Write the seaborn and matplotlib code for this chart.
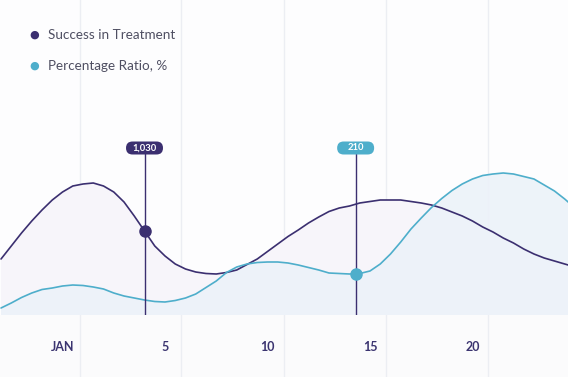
import matplotlib
matplotlib.use("Agg")
import matplotlib.pyplot as plt
import pandas as pd
import seaborn as sns
from matplotlib.patches import FancyBboxPatch

# data (x = day of January, half-day steps, y = chart units)
days = [d / 2 for d in range(-6, 51)]
success = [56, 69, 82, 94, 105, 115, 123, 129, 131, 132, 129, 123, 113, 99, 84,
           69, 59, 51, 46, 43, 41.5, 41, 42.5, 45, 50.5, 56, 63.5, 71, 78.5, 85,
           92, 98, 103.5, 107, 109, 112, 113.5, 115, 115, 115, 113.5, 112, 110, 107,
           103, 99, 94, 88, 83, 77, 72, 66, 61, 57, 54, 51, 48]
ratio = [7, 12, 17.5, 22, 25.5, 27, 29, 30, 29.5, 28, 26, 22, 19, 17, 15,
         13.5, 13, 14.5, 17, 21, 27.5, 34, 42.5, 48, 51, 52.5, 53, 53, 52, 50,
         47.5, 45, 42, 41.5, 41, 41.5, 44, 51, 61, 73, 86, 97, 107.5, 116.5,
         124.5, 131, 136, 139.5, 141, 142, 141, 138.5, 136, 130, 124, 116, 107]
tick_days = [0, 5, 10, 15, 20]
tick_labels = ["JAN", "5", "10", "15", "20"]
series_names = ["Success in Treatment", "Percentage Ratio, %"]
highlight_x = [4, 14.3]
highlight_y = [84, 41]
highlight_text = ["1,030", "210"]
tag_level = 167
grid_days = [0.85, 5.8, 10.8, 15.8, 20.75]

DARK = "#3b2f70"
LIGHT = "#4eaecb"
PX_PER_DAY = 20.5

sns.set_theme(style="white")
plt.rcParams["font.family"] = ["Lato", "DejaVu Sans"]

df = pd.DataFrame({"day": days * 2,
                   "value": success + ratio,
                   "series": [series_names[0]] * len(days) + [series_names[1]] * len(days)})

fig = plt.figure(figsize=(5.68, 3.77), dpi=100, facecolor="#fbfbfc")
ax = fig.add_axes([0, 62 / 377, 1, 315 / 377])
ax.set_facecolor("#fdfdfe")

# faint vertical bands
ax.vlines(grid_days, -80, 330, colors="#eceef3", lw=1, clip_on=False, zorder=0)

ax.fill_between(days, success, 0, color="#f7f5fa", lw=0, zorder=1)
ax.fill_between(days, ratio, 0, color="#ecf2f9", alpha=0.9, lw=0, zorder=2)

sns.lineplot(data=df, x="day", y="value", hue="series",
             palette={series_names[0]: DARK, series_names[1]: LIGHT},
             linewidth=1.2, legend=False, ax=ax, zorder=3)

# highlight markers with tags
for hx, hy, txt, col in zip(highlight_x, highlight_y, highlight_text, [DARK, LIGHT]):
    ax.plot([hx, hx], [0, tag_level], color=DARK, lw=1, zorder=4)
    ax.plot(hx, hy, "o", ms=8, color=col, zorder=5)
    w = 37 / PX_PER_DAY
    h = 13
    box = FancyBboxPatch((hx - w / 2, tag_level - h / 2), w, h,
                         boxstyle="round,pad=0,rounding_size=%.3f" % (6.5 / PX_PER_DAY),
                         mutation_aspect=PX_PER_DAY, fc=col, ec="none", zorder=6)
    ax.add_patch(box)
    ax.text(hx, tag_level, txt, ha="center", va="center", color="white",
            fontsize=6.8, fontweight="bold", zorder=7)

ax.set_xlim(-3.05, 24.66)
ax.set_ylim(0, 315)
ax.set_xticks(tick_days)
ax.set_xticklabels(tick_labels, fontsize=9, fontweight="bold", color="#3b3470")
ax.tick_params(axis="x", length=0, pad=19)
ax.set_yticks([])
ax.set_xlabel("")
ax.set_ylabel("")
for s in ax.spines.values():
    s.set_visible(False)

# legend at top-left
for i, (name, col) in enumerate(zip(series_names, [DARK, LIGHT])):
    yy = 1 - (35 + 31 * i) / 377
    fig.text(34 / 568, yy, "\u25CF", color=col, fontsize=8, ha="center", va="center",
             family=["DejaVu Sans"])
    fig.text(48 / 568, yy, name, color="#4f4f62", fontsize=9.7,
             ha="left", va="center")

fig.savefig("out.png", dpi=100, facecolor=fig.get_facecolor())
